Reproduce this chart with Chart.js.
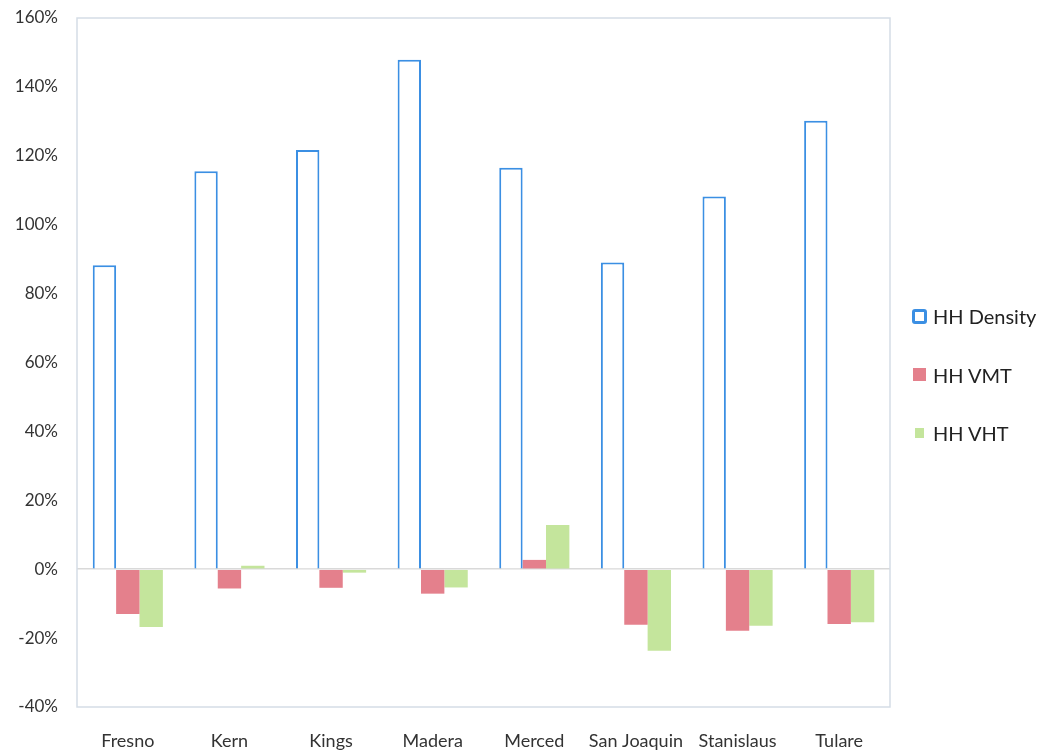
<!DOCTYPE html>
<html>
<head>
<meta charset="utf-8">
<script src="https://cdn.jsdelivr.net/npm/chart.js@4.4.1/dist/chart.umd.min.js"></script>
<style>
  html, body { margin: 0; padding: 0; background: #ffffff; }
  #wrap { width: 1049px; height: 751px; position: relative; }
  #legend { position: absolute; left: 912px; top: 296px; margin: 0; padding: 0; list-style: none;
            font-family: Lato, "Open Sans", "Liberation Sans", sans-serif; font-size: 20px; color: #222; }
  #legend li { display: flex; align-items: center; height: 40px; margin-bottom: 18.5px; white-space: nowrap; }
  #legend .sw { display: inline-block; box-sizing: border-box; margin-right: 6px; }
  #legend .slot { width: 15px; display: inline-flex; justify-content: center; margin-right: 6px; }
</style>
</head>
<body>
<div id="wrap">
  <canvas id="chart" width="1049" height="751"></canvas>
  <ul id="legend"></ul>
</div>
<script>
// Counties and household change metrics (percent)
const counties = ['Fresno', 'Kern', 'Kings', 'Madera', 'Merced', 'San Joaquin', 'Stanislaus', 'Tulare'];
const hhDensity = [88.2, 115.5, 121.7, 147.9, 116.5, 89.0, 108.2, 130.2];
const hhVMT = [-13.0, -5.6, -5.4, -7.1, 2.7, -16.1, -17.9, -15.9];
const hhVHT = [-16.8, 1.0, -1.0, -5.3, 12.8, -23.7, -16.4, -15.4];
const yTicks = [-40, -20, 0, 20, 40, 60, 80, 100, 120, 140, 160];

const font = 'Lato, "Open Sans", "Liberation Sans", sans-serif';

// Light frame around the plotting area
const plotFrame = {
  id: 'plotFrame',
  beforeDatasetsDraw(chart) {
    const { ctx, chartArea: a } = chart;
    ctx.save();
    ctx.strokeStyle = '#d5dde6';
    ctx.lineWidth = 1.5;
    ctx.strokeRect(a.left, a.top, a.right - a.left, a.bottom - a.top);
    ctx.restore();
  }
};

// HTML legend built from the chart's own legend items
const swatchSizes = [[15, 15, 3], [13, 13, 0], [9, 10, 0]];
const htmlLegend = {
  id: 'htmlLegend',
  afterUpdate(chart) {
    const ul = document.getElementById('legend');
    ul.innerHTML = '';
    const items = chart.options.plugins.legend.labels.generateLabels(chart);
    items.forEach((item, i) => {
      const [w, h, bw] = swatchSizes[i];
      const li = document.createElement('li');
      const slot = document.createElement('span');
      slot.className = 'slot';
      const sw = document.createElement('span');
      sw.className = 'sw';
      sw.style.width = w + 'px';
      sw.style.height = h + 'px';
      sw.style.margin = '0';
      sw.style.background = item.fillStyle;
      if (bw) {
        sw.style.border = bw + 'px solid ' + item.strokeStyle;
        sw.style.borderRadius = '3px';
      }
      slot.appendChild(sw);
      const txt = document.createElement('span');
      txt.textContent = item.text;
      li.appendChild(slot);
      li.appendChild(txt);
      ul.appendChild(li);
    });
  }
};

new Chart(document.getElementById('chart'), {
  type: 'bar',
  data: {
    labels: counties,
    datasets: [
      {
        label: 'HH Density',
        data: hhDensity,
        backgroundColor: '#ffffff',
        borderColor: '#3b8fe3',
        borderWidth: 2,
        borderSkipped: 'bottom'
      },
      {
        label: 'HH VMT',
        data: hhVMT,
        backgroundColor: '#e4808c',
        borderColor: '#e4808c',
        borderWidth: 0
      },
      {
        label: 'HH VHT',
        data: hhVHT,
        backgroundColor: '#c4e59c',
        borderColor: '#c4e59c',
        borderWidth: 0
      }
    ]
  },
  options: {
    responsive: false,
    animation: false,
    layout: { padding: { top: 18, left: 0, right: 159, bottom: 0 } },
    datasets: {
      bar: { categoryPercentage: 0.69, barPercentage: 1.0 }
    },
    scales: {
      x: {
        afterFit(axis) { axis.height = 44; },
        grid: { display: false, drawTicks: false },
        border: { display: false },
        ticks: {
          padding: 23,
          color: '#333333',
          font: { family: font, size: 18 }
        }
      },
      y: {
        min: -40,
        max: 160,
        afterBuildTicks(axis) {
          axis.ticks = yTicks.map(v => ({ value: v }));
        },
        afterFit(axis) { axis.width = 77; },
        grid: {
          drawTicks: true,
          tickLength: 17,
          tickColor: 'rgba(0,0,0,0)',
          color: ctx => (ctx.tick && ctx.tick.value === 0 ? '#d9d9d9' : 'rgba(0,0,0,0)'),
          lineWidth: 1.5
        },
        border: { display: false },
        ticks: {
          padding: 2,
          color: '#333333',
          font: { family: font, size: 17 },
          callback: v => v + '%'
        }
      }
    },
    plugins: {
      legend: { display: false },
      tooltip: { enabled: false }
    }
  },
  plugins: [plotFrame, htmlLegend]
});
</script>
</body>
</html>
